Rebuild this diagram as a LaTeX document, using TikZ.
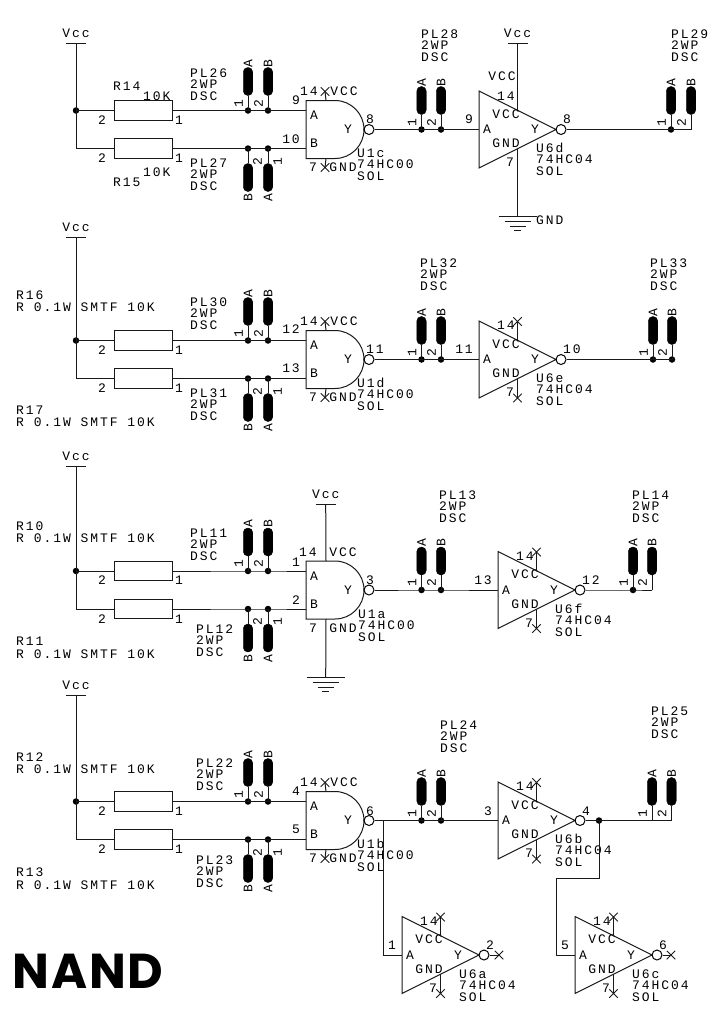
\documentclass[tikz,border=0pt]{standalone}
\usepackage{fontspec}
\usetikzlibrary{shapes.misc}
\newfontfamily\schfont[LetterSpace=15]{Liberation Mono}
\newfontfamily\bigfont[LetterSpace=4]{Poppins}
\newcounter{lblno}
\tikzset{
  wire/.style={draw=black!90,line width=1pt},
  lbl/.style={font=\schfont\fontsize{13}{13}\selectfont,text=black,inner sep=0pt,text height=8.5pt,text depth=0pt},
  res/.style={draw=black!90,line width=1pt,minimum width=58pt,minimum height=19.5pt,inner sep=0pt},
  plug/.style={fill=black,draw=black,rounded corners=4.6pt,minimum width=9.5pt,minimum height=28pt,inner sep=0pt},
  jdot/.style={circle,fill=black,minimum size=6.5pt,inner sep=0pt},
  nodot/.style={inner sep=0pt,minimum size=0pt},
  bub/.style={circle,draw=black,line width=1pt,minimum size=10pt,inner sep=0pt},
  xmark/.style={cross out,draw=black!90,line width=1pt,minimum size=7.5pt,inner sep=0pt}
}
% text label
\newcommand\T[4][center]{\stepcounter{lblno}\node[lbl,anchor=#1] (t\thelblno) at (#2,#3) {#4};}
\newcommand\TR[3]{\stepcounter{lblno}\node[lbl,rotate=90] (t\thelblno) at (#1,#2) {#3};}
\newcommand\Three[5]{\T[west]{#1}{#2}{#3}\T[west]{#1}{#2+11.7}{#4}\T[west]{#1}{#2+23.4}{#5}}
% Vcc bar: name, x, y
\newcommand\VccBar[3]{\coordinate (#1) at (#2,#3);\draw[wire] (#2-10,#3) -- (#2+10,#3);\T{#2}{#3-10}{Vcc}}
% ground: name, x, y
\newcommand\GndSym[3]{\coordinate (#1) at (#2,#3);
  \draw[wire] (#2-19,#3) -- (#2+19,#3);
  \draw[wire] (#2-13,#3+5) -- (#2+13,#3+5);
  \draw[wire] (#2-8,#3+10) -- (#2+8,#3+10);
  \draw[wire] (#2-3.5,#3+14) -- (#2+3.5,#3+14);}
% header pointing up: name, x, wire y, junction style, pin, letter
\newcommand\Hup[6]{\node[#4] (#1-j) at (#2,#3) {};\node[plug] (#1) at (#2,#3-29) {};
  \draw[wire] (#1-j.center) -- (#1.south);
  \TR{#2-9.5}{#3-7}{#5}\TR{#2}{#3-47}{#6}}
% header pointing down
\newcommand\Hdn[6]{\node[#4] (#1-j) at (#2,#3) {};\node[plug] (#1) at (#2,#3+29) {};
  \draw[wire] (#1-j.center) -- (#1.north);
  \TR{#2+9.5}{#3+13}{#5}\TR{#2}{#3+49.5}{#6}}
% NAND gate: name, left x, centre y
\newcommand\Nand[3]{
  \draw[wire] (#2,#3-29) -- (#2+29,#3-29) .. controls (#2+45,#3-29) and (#2+58,#3-16) .. (#2+58,#3)
     .. controls (#2+58,#3+16) and (#2+45,#3+29) .. (#2+29,#3+29) -- (#2,#3+29) -- cycle;
  \coordinate (#1-a) at (#2,#3-19);\coordinate (#1-b) at (#2,#3+19);
  \coordinate (#1-vp) at (#2+20,#3-29);\coordinate (#1-gp) at (#2+20,#3+29);
  \node[bub] (#1-y) at (#2+63,#3) {};
  \T{#2+8}{#3-14}{A}\T{#2+8}{#3+14}{B}\T{#2+42}{#3}{Y}}
% inverter: name, left x, centre y
\newcommand\Inv[3]{
  \draw[wire] (#2,#3-38.5) -- (#2+77,#3) -- (#2,#3+38.5) -- cycle;
  \coordinate (#1-a) at (#2,#3);
  \coordinate (#1-vp) at (#2+38.5,#3-19.2);\coordinate (#1-gp) at (#2+38.5,#3+19.2);
  \node[bub] (#1-y) at (#2+82,#3) {};
  \T{#2+8}{#3}{A}\T{#2+56}{#3}{Y}\T{#2+27}{#3-15.5}{VCC}\T{#2+27}{#3+14}{GND}}
% unconnected power pins of an inverter
\newcommand\InvX[3]{
  \node[xmark] (#1-vx) at (#2+38.5,#3-38) {};\node[xmark] (#1-gx) at (#2+38.5,#3+38.5) {};
  \draw[wire] (#1-vp) -- (#1-vx.center);\draw[wire] (#1-gp) -- (#1-gx.center);
  \T{#2+27}{#3-34}{14}\T{#2+31}{#3+33}{7}}
% unconnected power pins of a gate
\newcommand\GateX[3]{
  \node[xmark] (#1-vx) at (#2+19,#3-38) {};\node[xmark] (#1-gx) at (#2+19,#3+38) {};
  \draw[wire] (#1-vp) -- (#1-vx.center);\draw[wire] (#1-gp) -- (#1-gx.center);
  \T{#2+38}{#3-38}{VCC}\T{#2+37}{#3+38}{GND}}
% input part common to all four groups
\newcommand\InBlock[3]{
  \VccBar{#1v}{76}{#3}
  \node[jdot] (#1j) at (76,#2-19) {};
  \node[res] (#1r1) at (143,#2-19) {};
  \node[res] (#1r2) at (143,#2+19) {};
  \draw[wire] (#1v) |- (#1r2.west);
  \draw[wire] (#1j.center) -- (#1r1.west);
  \T{102}{#2-9.5}{2}\T{179}{#2-9.5}{1}\T{102}{#2+29}{2}\T{179}{#2+29}{1}
  \Hup{#1ha}{248}{#2-19}{jdot}{1}{A}
  \Hup{#1hb}{268}{#2-19}{jdot}{2}{B}
  \Hdn{#1hc}{248}{#2+19}{jdot}{2}{B}
  \Hdn{#1hd}{268}{#2+19}{jdot}{1}{A}
  \Nand{#1g}{306}{#2}
  \draw[wire] (#1r1.east) -- (#1ha-j.center) -- (#1hb-j.center) -- (#1g-a);
  \draw[wire] (#1r2.east) -- (#1hc-j.center) -- (#1hd-j.center) -- (#1g-b);
  \Hup{#1he}{421.5}{#2}{jdot}{1}{A}
  \Hup{#1hf}{441}{#2}{jdot}{2}{B}
}
\begin{document}
\begin{tikzpicture}[x=1pt,y=-1pt]
\useasboundingbox (0,0) rectangle (718,1012);
\fill[white] (0,0) rectangle (718,1012);

% ---------- group 1 ----------
\InBlock{a}{129.5}{43}
\GateX{ag}{306}{129.5}
\T[east]{300}{100}{9}\T[east]{300}{139}{10}
\T{309}{91}{14}\T{313}{167}{7}
\T[west]{366}{119}{8}
\T[west]{113}{86}{R14}\T[west]{143}{96}{10K}
\T[west]{143}{172}{10K}\T[west]{113}{182}{R15}
\Three{190}{73}{PL26}{2WP}{DSC}
\Three{190}{163}{PL27}{2WP}{DSC}
\Three{357}{153}{U1c}{74HC00}{SOL}
\Three{421}{34}{PL28}{2WP}{DSC}
\Inv{ai}{479}{129.5}
\draw[wire] (ag-y.east) -- (ahe-j.center) -- (ahf-j.center) -- (ai-a);
\VccBar{aiv}{517.5}{43}
\GndSym{aig}{517.5}{216}
\draw[wire] (aiv) -- (ai-vp);
\draw[wire] (ai-gp) -- (aig);
\T{502}{76}{VCC}\T{506}{96}{14}\T{510}{162}{7}
\T[west]{536}{220}{GND}
\T[east]{473}{119}{9}\T[west]{563}{119}{8}
\Three{536}{148}{U6d}{74HC04}{SOL}
\Hup{ahg}{671}{129.5}{jdot}{1}{A}
\Hup{ahh}{691}{129.5}{nodot}{2}{B}
\draw[wire] (ai-y.east) -- (ahg-j.center) -- (ahh-j.center);
\Three{671}{34}{PL29}{2WP}{DSC}

% ---------- group 2 ----------
\InBlock{b}{359.5}{237}
\GateX{bg}{306}{359.5}
\T[east]{300}{329}{12}\T[east]{300}{368}{13}
\T{309}{321}{14}\T{313}{397}{7}
\T[west]{366}{349}{11}
\T[west]{16}{295}{R16}\T[west]{16}{307}{R 0.1W SMTF 10K}
\T[west]{16}{410}{R17}\T[west]{16}{422}{R 0.1W SMTF 10K}
\Three{190}{302}{PL30}{2WP}{DSC}
\Three{190}{393}{PL31}{2WP}{DSC}
\Three{357}{383}{U1d}{74HC00}{SOL}
\Three{420}{263}{PL32}{2WP}{DSC}
\Inv{bi}{479}{359.5}
\InvX{bi}{479}{359.5}
\draw[wire] (bg-y.east) -- (bhe-j.center) -- (bhf-j.center) -- (bi-a);
\T[east]{473}{349}{11}\T[west]{563}{349}{10}
\Three{536}{378}{U6e}{74HC04}{SOL}
\Hup{bhg}{653}{359.5}{jdot}{1}{A}
\Hup{bhh}{672}{359.5}{jdot}{2}{B}
\draw[wire] (bi-y.east) -- (bhg-j.center) -- (bhh-j.center);
\Three{650}{263}{PL33}{2WP}{DSC}

% ---------- group 3 ----------
\InBlock{c}{590}{466}
\T[east]{300}{562}{1}\T[east]{300}{600}{2}
\T{308}{552}{14}\T{313}{628}{7}
\T{343}{552}{VCC}\T{343}{628}{GND}
\VccBar{cgv}{325.7}{504}
\GndSym{cgg}{325.7}{677}
\draw[wire] (cgv) -- (cg-vp);
\draw[wire] (cg-gp) -- (cgg);
\T[west]{366}{580}{3}
\T[west]{16}{526}{R10}\T[west]{16}{538}{R 0.1W SMTF 10K}
\T[west]{16}{641}{R11}\T[west]{16}{654}{R 0.1W SMTF 10K}
\Three{190}{533}{PL11}{2WP}{DSC}
\Three{196}{629}{PL12}{2WP}{DSC}
\Three{358}{614}{U1a}{74HC00}{SOL}
\Three{439}{495}{PL13}{2WP}{DSC}
\Inv{ci}{498}{590}
\InvX{ci}{498}{590}
\draw[wire] (cg-y.east) -- (che-j.center) -- (chf-j.center) -- (ci-a);
\T[east]{492}{580}{13}\T[west]{582}{580}{12}
\Three{555}{609}{U6f}{74HC04}{SOL}
\Hup{chg}{633}{590}{jdot}{1}{A}
\Hup{chh}{652}{590}{nodot}{2}{B}
\draw[wire] (ci-y.east) -- (chg-j.center) -- (chh-j.center);
\Three{632}{495}{PL14}{2WP}{DSC}

% ---------- group 4 ----------
\InBlock{d}{820.5}{695}
\GateX{dg}{306}{820.5}
\T[east]{300}{791}{4}\T[east]{300}{829}{5}
\T{309}{782}{14}\T{313}{858}{7}
\T[west]{366}{811}{6}
\T[west]{16}{757}{R12}\T[west]{16}{769}{R 0.1W SMTF 10K}
\T[west]{16}{872}{R13}\T[west]{16}{885}{R 0.1W SMTF 10K}
\Three{196}{763}{PL22}{2WP}{DSC}
\Three{196}{860}{PL23}{2WP}{DSC}
\Three{357}{844}{U1b}{74HC00}{SOL}
\Three{440}{725}{PL24}{2WP}{DSC}
\Inv{di}{498}{820.5}
\InvX{di}{498}{820.5}
\draw[wire] (dg-y.east) -- (dhe-j.center) -- (dhf-j.center) -- (di-a);
\T[east]{492}{811}{3}\T[west]{582}{811}{4}
\Three{555}{839}{U6b}{74HC04}{SOL}
\Hup{dhg}{652}{820.5}{nodot}{1}{A}
\Hup{dhh}{671.5}{820.5}{nodot}{2}{B}
\node[jdot] (dn) at (599,820.5) {};
\draw[wire] (di-y.east) -- (dn.center) -- (dhg-j.center) -- (dhh-j.center);
\Three{651}{711}{PL25}{2WP}{DSC}

% U6a
\Inv{ei}{402}{955}
\InvX{ei}{402}{955}
\coordinate (et) at (383,820.5);
\draw[wire] (et) |- (ei-a);
\T[east]{396}{945}{1}\T[west]{486}{945}{2}
\node[xmark] (ex) at (499,955) {};
\draw[wire] (ei-y.east) -- (ex.center);
\Three{459}{974}{U6a}{74HC04}{SOL}

% U6c
\Inv{fi}{575}{955}
\InvX{fi}{575}{955}
\coordinate (fb) at (556,878);
\draw[wire] (dn.center) |- (fb) |- (fi-a);
\T[east]{569}{945}{5}\T[west]{659}{945}{6}
\node[xmark] (fx) at (671,955) {};
\draw[wire] (fi-y.east) -- (fx.center);
\Three{632}{974}{U6c}{74HC04}{SOL}

% title
\node[inner sep=0pt,anchor=west,font=\bigfont\bfseries\fontsize{49}{49}\selectfont] (title) at (12,971) {NAND};
\end{tikzpicture}
\end{document}
